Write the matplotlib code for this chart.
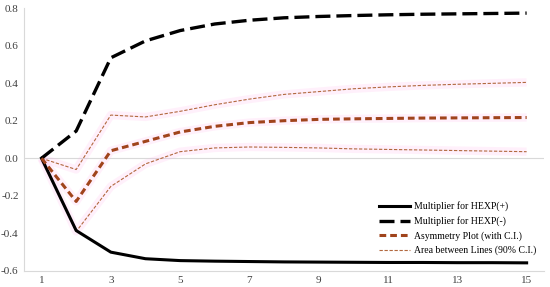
import numpy as np
import matplotlib.pyplot as plt

periods = list(range(1, 16))
hexp_pos = [0.0, -0.385, -0.50, -0.535, -0.545, -0.548, -0.55, -0.552, -0.553, -0.554, -0.555, -0.555, -0.556, -0.556, -0.557]
hexp_neg = [0.0, 0.145, 0.535, 0.625, 0.68, 0.715, 0.735, 0.748, 0.755, 0.76, 0.764, 0.767, 0.769, 0.771, 0.773]
asym = [0.0, -0.23, 0.04, 0.09, 0.14, 0.17, 0.19, 0.20, 0.207, 0.21, 0.212, 0.214, 0.215, 0.216, 0.217]
ci_upper = [0.0, -0.06, 0.23, 0.22, 0.25, 0.285, 0.315, 0.34, 0.355, 0.37, 0.38, 0.388, 0.394, 0.399, 0.404]
ci_lower = [0.0, -0.39, -0.15, -0.03, 0.035, 0.055, 0.06, 0.058, 0.055, 0.05, 0.047, 0.044, 0.041, 0.038, 0.035]

plt.rcParams['font.family'] = ['Liberation Serif', 'DejaVu Serif']

fig = plt.figure(figsize=(5.5, 2.87), dpi=100)
ax = fig.add_axes([0.044, 0.056, 0.945, 0.916])

# faint pink glow under the red lines
for s in (asym, ci_upper, ci_lower):
    ax.plot(periods, s, color='#ffb0ea', alpha=0.18, lw=6, solid_capstyle='butt', zorder=1)

ax.axhline(0, color='#d9d9d9', lw=0.8, zorder=0)

ax.plot(periods, hexp_pos, color='black', lw=2.2, label='Multiplier for HEXP(+)', zorder=3)
ax.plot(periods, hexp_neg, color='black', lw=2.4, dashes=(4.5, 1.8), label='Multiplier for HEXP(-)', zorder=3)
ax.plot(periods, asym, color='#a0441c', lw=2.2, dashes=(2.2, 1.3), label='Asymmetry Plot (with C.I.)', zorder=3)
ax.plot(periods, ci_upper, color='#b2693f', lw=0.8, dashes=(3, 1.5), label='Area between Lines (90% C.I.)', zorder=2)
ax.plot(periods, ci_lower, color='#b2693f', lw=0.8, dashes=(3, 1.5), zorder=2)

ax.set_xlim(0.5, 15.5)
ax.set_ylim(-0.6, 0.8)
ax.set_xticks(range(1, 16, 2))
ax.set_yticks(np.arange(-0.6, 0.81, 0.2))
ax.set_yticklabels([f'{v:.1f}' for v in np.arange(-0.6, 0.81, 0.2)])
ax.tick_params(length=0, labelsize=8, colors='#404040', pad=4)

for side in ('top', 'right'):
    ax.spines[side].set_visible(False)
for side in ('left', 'bottom'):
    ax.spines[side].set_color('#d9d9d9')
    ax.spines[side].set_linewidth(0.8)

ax.legend(loc='lower right', bbox_to_anchor=(0.985, 0.06), frameon=False, fontsize=7,
          handlelength=3.2, labelspacing=0.5, handletextpad=0.4, borderaxespad=0,
          borderpad=0)

fig.savefig('out.png', dpi=100)
